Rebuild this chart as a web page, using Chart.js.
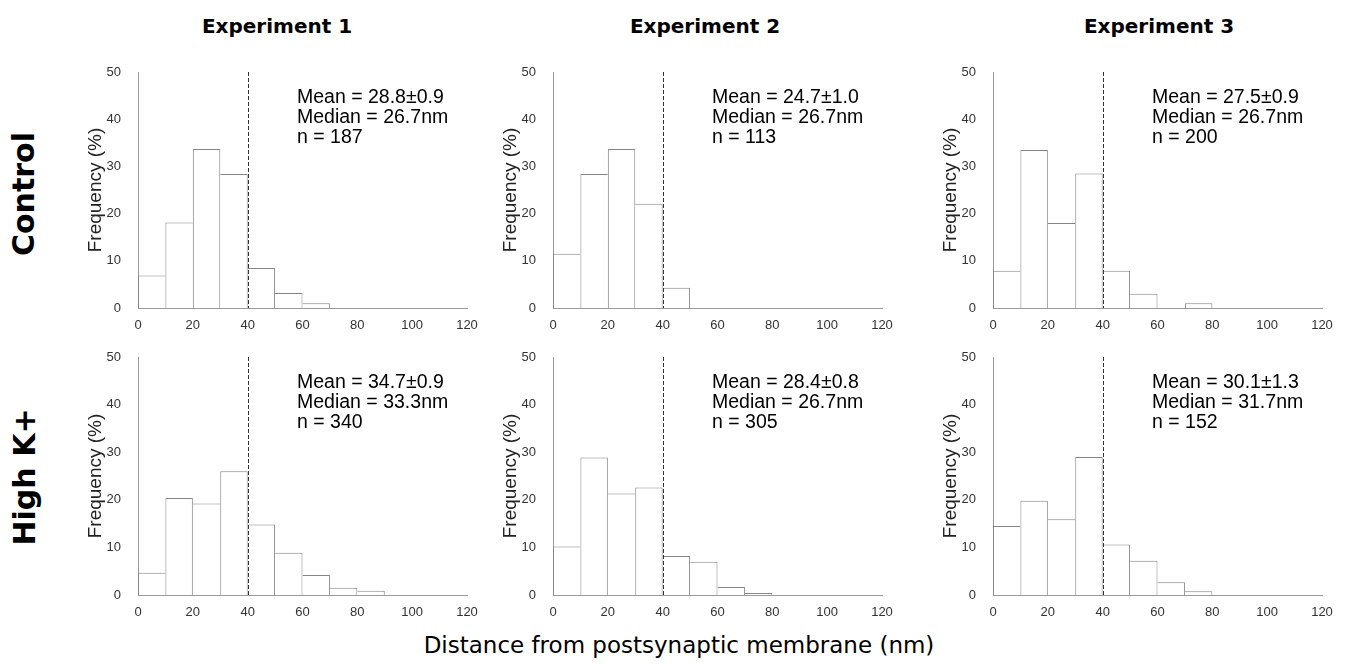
<!DOCTYPE html>
<html>
<head>
<meta charset="utf-8">
<script src="https://cdn.jsdelivr.net/npm/chart.js"></script>
<style>
  body { margin: 0; background: #fff; }
  #wrap { position: relative; width: 1345px; height: 666px; background: #fff; overflow: hidden; }
  .pan { position: absolute; }
  .lbl { position: absolute; font-family: "DejaVu Sans", sans-serif; color: #000; white-space: nowrap; text-align: center; }
  .exp { font-weight: bold; font-size: 20px; line-height: 24px; width: 240px; top: 14px; }
  .row { font-weight: bold; font-size: 30px; line-height: 36px; width: 240px; transform: rotate(-90deg); }
  .xt { font-size: 23px; line-height: 28px; width: 700px; }
</style>
</head>
<body>
<div id="wrap">
  <div class="lbl exp" style="left:157px">Experiment 1</div>
  <div class="lbl exp" style="left:585px">Experiment 2</div>
  <div class="lbl exp" style="left:1039px">Experiment 3</div>
  <div class="lbl row" style="left:-96px; top:176px">Control</div>
  <div class="lbl row" style="left:-95px; top:459px">High K+</div>
  <div class="lbl xt" style="left:329px; top:631px">Distance from postsynaptic membrane (nm)</div>
</div>

<script>
// bin centres (nm), 10 nm bins from 0 to 120
var bins = [5, 15, 25, 35, 45, 55, 65, 75, 85, 95, 105, 115];

// frequency (%) per bin
var control1 = [6.9, 18.1, 33.7, 28.4, 8.5, 3.2, 1.0, 0, 0, 0, 0, 0];
var control2 = [11.5, 28.4, 33.7, 22.1, 4.3, 0, 0, 0, 0, 0, 0, 0];
var control3 = [7.9, 33.5, 18.0, 28.5, 7.9, 3.0, 0, 1.0, 0, 0, 0, 0];
var highK1 = [4.7, 20.4, 19.2, 26.0, 14.8, 8.9, 4.2, 1.5, 0.9, 0, 0, 0];
var highK2 = [10.2, 28.9, 21.3, 22.6, 8.2, 7.0, 1.7, 0.4, 0, 0, 0, 0];
var highK3 = [14.5, 19.8, 15.9, 29.0, 10.6, 7.2, 2.7, 0.8, 0, 0, 0, 0];

var means = ['28.8±0.9', '24.7±1.0', '27.5±0.9', '34.7±0.9', '28.4±0.8', '30.1±1.3'];
var medians = ['26.7', '26.7', '26.7', '33.3', '26.7', '31.7'];
var counts = ['187', '113', '200', '340', '305', '152'];

var cutoff = 40;
var xTicksMax = 120;
var yTicksMax = 50;

var series = [control1, control2, control3, highK1, highK2, highK3];

// plot areas (left, top, width, height) of the six panels
var areas = [
  [138, 72, 329, 236], [553, 72, 329, 236], [993, 72, 329, 236],
  [138, 357, 329, 238], [553, 357, 329, 238], [993, 357, 329, 238]
];
var yW = 58, xH = 22, padT = 17, padR = 13;
var tickFont = { family: '"Liberation Sans", Arial, sans-serif', size: 13 };

// dashed cut-off line + stats text
var extras = {
  id: 'extras',
  afterDatasetsDraw: function(chart, args, opts) {
    var c = chart.ctx, a = chart.chartArea;
    var x = Math.round(chart.scales.x.getPixelForValue(cutoff)) + 0.5;
    c.save();
    c.strokeStyle = '#333';
    c.lineWidth = 1;
    c.setLineDash([4, 2]);
    c.beginPath();
    c.moveTo(x, a.top);
    c.lineTo(x, a.bottom);
    c.stroke();
    c.restore();

    c.save();
    c.fillStyle = '#000';
    c.font = '19.5px "Liberation Sans", Arial, sans-serif';
    c.textBaseline = 'alphabetic';
    var tx = a.left + 159;
    c.fillText('Mean = ' + opts.mean, tx, a.top + 31);
    c.fillText('Median = ' + opts.median + 'nm', tx, a.top + 51);
    c.fillText('n = ' + opts.n, tx, a.top + 71);
    c.restore();
  }
};

var wrap = document.getElementById('wrap');

series.forEach(function(vals, k) {
  var ar = areas[k];
  var div = document.createElement('div');
  div.className = 'pan';
  div.style.left = (ar[0] - yW) + 'px';
  div.style.top = (ar[1] - padT) + 'px';
  var cv = document.createElement('canvas');
  var w = ar[2] + yW + padR, h = ar[3] + padT + xH;
  cv.width = w; cv.height = h;
  cv.style.width = w + 'px'; cv.style.height = h + 'px';
  div.appendChild(cv);
  wrap.appendChild(div);

  var pts = bins.map(function(b, i) { return { x: b, y: vals[i] }; });

  new Chart(cv.getContext('2d'), {
    type: 'bar',
    data: {
      datasets: [{
        data: pts,
        backgroundColor: '#fff',
        borderColor: '#858585',
        borderSkipped: false,
        borderWidth: function(ctx) {
          var d = ctx.dataset.data, i = ctx.dataIndex;
          var v = d[i].y;
          var prev = i > 0 ? d[i - 1].y : 0;
          var next = i < d.length - 1 ? d[i + 1].y : 0;
          return { top: 1, left: v > prev ? 1 : 0, right: v >= next ? 1 : 0, bottom: 0 };
        },
        inflateAmount: 0,
        barPercentage: 1,
        categoryPercentage: 1
      }]
    },
    options: {
      responsive: false,
      animation: false,
      devicePixelRatio: 1,
      layout: { padding: { top: padT, right: padR, left: 0, bottom: 0 } },
      plugins: {
        legend: { display: false },
        tooltip: { enabled: false },
        extras: { mean: means[k], median: medians[k], n: counts[k] }
      },
      scales: {
        x: {
          type: 'linear',
          min: 0, max: xTicksMax,
          offset: false,
          grid: { display: false, offset: false },
          border: { display: true, color: '#9a9a9a', width: 1 },
          ticks: { stepSize: 20, padding: 2, color: '#333', font: tickFont, maxRotation: 0 },
          afterFit: function(s) { s.height = xH; }
        },
        y: {
          min: 0, max: yTicksMax,
          grid: { display: false },
          border: { display: true, color: '#9a9a9a', width: 1 },
          ticks: { stepSize: 10, padding: 9, color: '#333', font: tickFont },
          title: { display: true, text: 'Frequency (%)', color: '#222', padding: { top: 4, bottom: 0 }, font: { family: '"Liberation Sans", Arial, sans-serif', size: 19 } },
          afterFit: function(s) { s.width = yW; }
        }
      }
    },
    plugins: [extras]
  });
});
</script>
</body>
</html>
